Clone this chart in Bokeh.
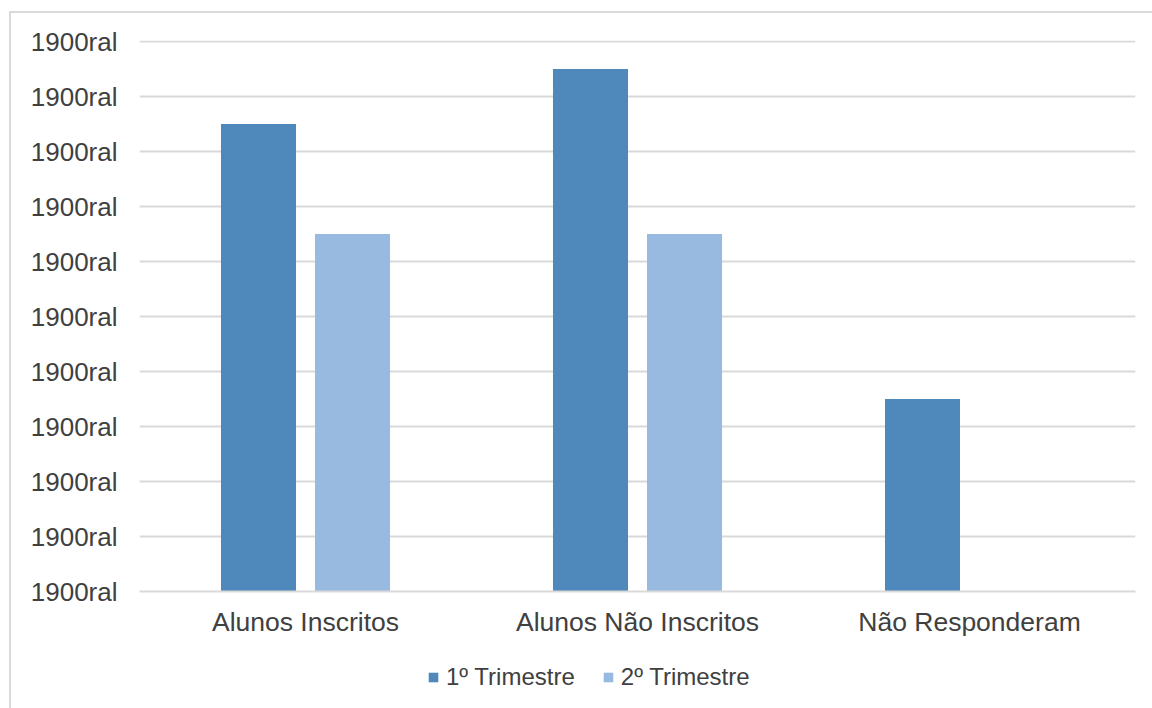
from bokeh.plotting import figure
from bokeh.layouts import column
from bokeh.models import FactorRange, Range1d, FixedTicker, Legend, LegendItem, ColumnDataSource
from bokeh.transform import dodge
from bokeh.embed import file_html
from bokeh.resources import INLINE

categories = ["Alunos Inscritos", "Alunos Não Inscritos", "Não Responderam"]
series_names = ["1º Trimestre", "2º Trimestre"]
trimestre_1 = [8.5, 9.5, 3.5]
trimestre_2 = [6.5, 6.5, 0]
y_ticks = list(range(0, 11))
y_tick_label = "1900ral"
colors = ["#4F89BC", "#98B9E0"]

FONT = "Liberation Sans"
TXT = "#404040"

src = ColumnDataSource(dict(cat=categories, t1=trimestre_1, t2=trimestre_2))

p = figure(x_range=FactorRange(*categories, range_padding=0), y_range=Range1d(0, 10.02),
           width=1141, height=637, output_backend="svg", toolbar_location=None,
           min_border_left=128, min_border_right=17, min_border_top=27, min_border_bottom=59)

p.vbar(x=dodge("cat", -0.1416, range=p.x_range), top="t1", width=0.226, source=src,
       fill_color=colors[0], line_color=None)
p.vbar(x=dodge("cat", 0.1416, range=p.x_range), top="t2", width=0.226, source=src,
       fill_color=colors[1], line_color=None)

p.outline_line_color = None
p.xgrid.grid_line_color = None
p.ygrid.grid_line_color = "#D9D9D9"
p.ygrid.grid_line_width = 2
p.yaxis.ticker = FixedTicker(ticks=y_ticks)
p.yaxis.major_label_overrides = {t: y_tick_label for t in y_ticks}
p.yaxis.axis_line_color = None
p.yaxis.major_tick_line_color = None
p.yaxis.minor_tick_line_color = None
p.yaxis.major_label_standoff = 16
p.xaxis.axis_line_color = "#D9D9D9"
p.xaxis.axis_line_width = 2
p.xaxis.major_tick_line_color = None
p.xaxis.major_label_standoff = 9
for ax in (p.xaxis, p.yaxis):
    ax.major_label_text_font = FONT
    ax.major_label_text_color = TXT
p.yaxis.major_label_text_font_size = "26px"
p.xaxis.major_label_text_font_size = "26.5px"

# legend strip below the chart
p2 = figure(width=1141, height=58, output_backend="svg", toolbar_location=None,
            x_range=Range1d(0, 1), y_range=Range1d(0, 1),
            min_border=0, min_border_left=0, min_border_right=0,
            min_border_top=0, min_border_bottom=0)
p2.axis.visible = False
p2.grid.visible = False
p2.outline_line_color = None
l1 = p2.vbar(x=[-10], top=[0], width=0.1, fill_color=colors[0], line_color=None)
l2 = p2.vbar(x=[-10], top=[0], width=0.1, fill_color=colors[1], line_color=None)
legend = Legend(items=[LegendItem(label=series_names[0], renderers=[l1]),
                       LegendItem(label=series_names[1], renderers=[l2])],
                orientation="horizontal", location=(288, 17),
                padding=0, margin=0, spacing=27, label_standoff=7,
                glyph_width=12, glyph_height=12, border_line_color=None,
                background_fill_alpha=0, label_text_font=FONT,
                label_text_font_size="24px", label_text_color=TXT)
p2.add_layout(legend, "center")

layout = column(p, p2, spacing=0,
                styles={"margin-top": "11px", "margin-left": "9px",
                        "border-top": "2px solid #D9D9D9", "border-left": "2px solid #D9D9D9"})

open("out.html", "w").write(file_html(layout, INLINE))
